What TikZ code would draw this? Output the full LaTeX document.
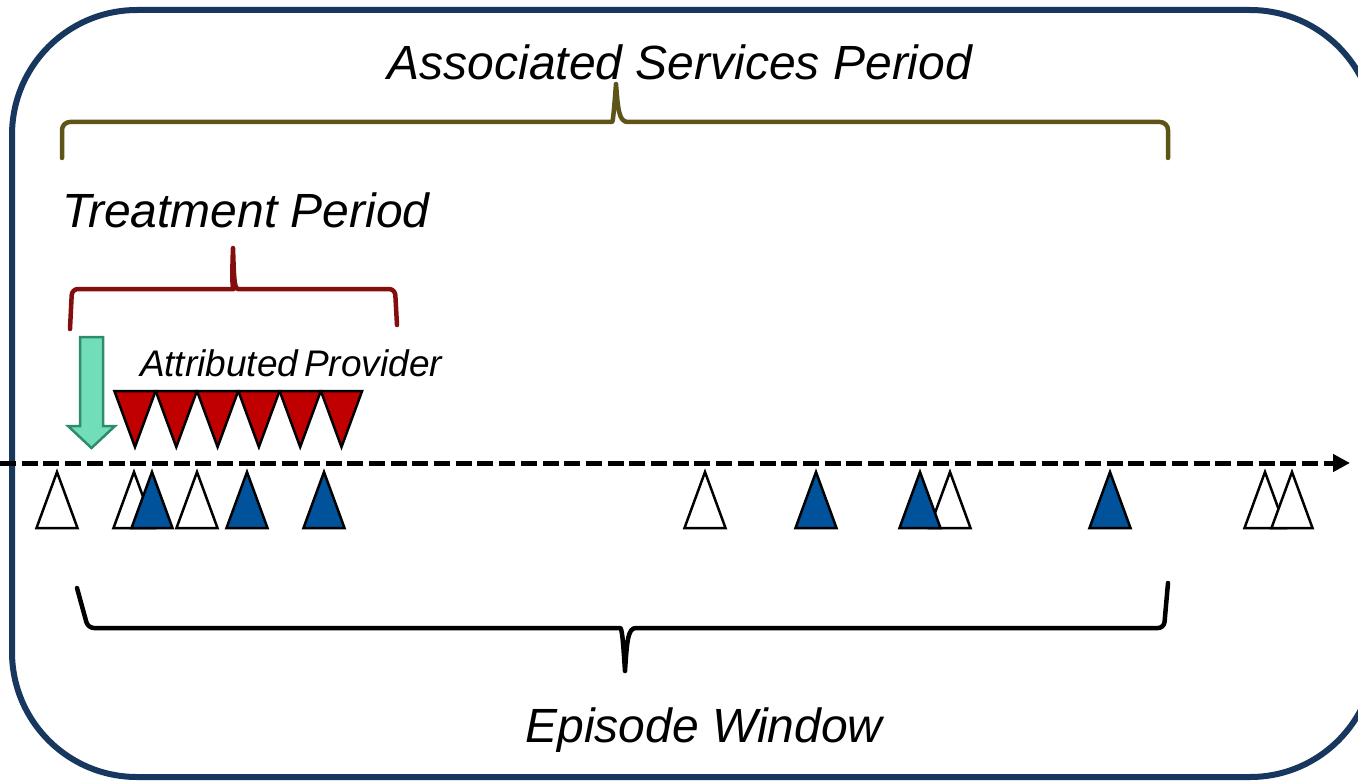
\documentclass[tikz,border=0pt]{standalone}
\usepackage{fontspec}
\setmainfont{Liberation Sans}
\usetikzlibrary{calc}
\usetikzlibrary{arrows.meta}

\definecolor{framecol}{RGB}{23,55,94}
\definecolor{olivecol}{RGB}{94,84,24}
\definecolor{brickcol}{RGB}{132,14,14}
\definecolor{redtri}{RGB}{192,0,0}
\definecolor{bluetri}{RGB}{0,82,155}
\definecolor{mintfill}{RGB}{114,221,185}
\definecolor{mintline}{RGB}{46,139,110}

\tikzset{
    frame/.style={draw=framecol, line width=6pt, rounded corners=125pt},
    bracket/.style={line width=4.5pt, line cap=round, line join=round},
    label/.style={font=\fontsize{48}{56}\selectfont\itshape, inner sep=0pt},
    tri/.style={draw=black, line width=2.5pt, line join=miter},
}

\begin{document}
\begin{tikzpicture}[x=1pt,y=-1pt]
        \useasboundingbox (0,0) rectangle (1358,781);
        % 外框
        \draw [frame] (12,10) rectangle (1375,777);

        % 上方括号: Associated Services Period
        \coordinate (asL) at (62,158);
        \coordinate (asT) at (616,84);
        \coordinate (asR) at (1168,158);
        \draw [bracket, olivecol] (asL) [rounded corners=8pt] -- (62,122) -- (604,122)
            [sharp corners] .. controls (613,122) and (614,110) .. (asT)
            .. controls (618,110) and (619,122) .. (628,122)
            [rounded corners=8pt] -- (1168,122) -- (asR);
        \node [label] (as) at (680,62) {Associated Services Period};

        % 中间括号: Treatment Period
        \coordinate (tpL) at (70,329);
        \coordinate (tpT) at (233,248);
        \coordinate (tpR) at (397,325);
        \draw [bracket, brickcol] (tpL) [rounded corners=6pt] -- (72,289) -- (228,289)
            [sharp corners] .. controls (232,289) and (232,275) .. (tpT)
            .. controls (234,275) and (234,289) .. (238,289)
            [rounded corners=6pt] -- (395,289) -- (tpR);
        \node [label] (tp) at (246,210) {Treatment Period};

        % 下方括号: Episode Window
        \coordinate (ewL) at (77,588);
        \coordinate (ewT) at (625,671);
        \coordinate (ewR) at (1168,583);
        \draw [bracket, black] (ewL) [rounded corners=6pt] -- (88,628) -- (614,628)
            [sharp corners] .. controls (622,628) and (623,640) .. (ewT)
            .. controls (627,640) and (628,628) .. (636,628)
            [rounded corners=6pt] -- (1164,628) -- (ewR);
        \node [label] (ew) at (704,730) {Episode Window};

        % 时间轴
        \coordinate (t0) at (0,463);
        \coordinate (t1) at (1350,463);
        \draw [line width=5pt, dash pattern=on 16pt off 5.7pt,
               -{Triangle[length=17pt,width=17pt]}] (t0) -- (t1);

        % 绿色箭头
        \draw [fill=mintfill, draw=mintline, line width=2.5pt, line join=miter]
            (80,337) -- (103,337) -- (103,426) -- (115,426) -- (91.5,448)
            -- (68,426) -- (80,426) -- cycle;

        % 红色倒三角
        \foreach \x in {135,176.3,217.6,258.9,300.2,341.5}
            \draw [tri, fill=redtri] (\x,447) -- ($(\x,391)+(-20.6,0)$)
                -- ($(\x,391)+(20.6,0)$) -- cycle;
        \node [font=\fontsize{37}{44}\selectfont\itshape, inner sep=0pt]
            (ap) at (291,363) {Attributed\hspace{-0.12em} Provider};

        % 轴下三角: 白色与蓝色
        \foreach \x/\c in {57/white,134/white,152/bluetri,197/white,247/bluetri,
                324/bluetri,705/white,816/bluetri,950/white,920/bluetri,
                1110/bluetri,1265/white,1292/white}
            \draw [tri, fill=\c] (\x,472) -- ($(\x,528)+(20.5,0)$)
                -- ($(\x,528)+(-20.5,0)$) -- cycle;
    \end{tikzpicture}
\end{document}
